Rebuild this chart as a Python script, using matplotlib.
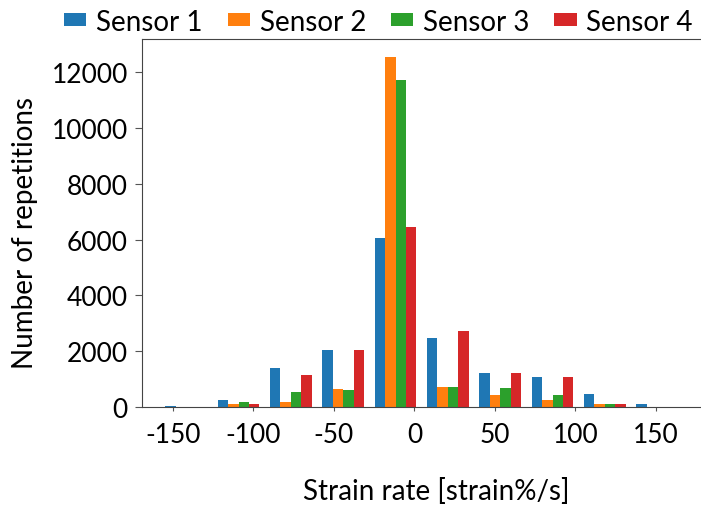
import matplotlib.pyplot as plt
import numpy as np

plt.rcParams['font.family'] = ['Lato', 'DejaVu Sans']
plt.rcParams['axes.unicode_minus'] = False

# histogram bin edges (strain%/s) and counts per sensor
bin_edges = np.linspace(-158, 167, 11)
sensor1 = [8, 240, 1380, 2030, 6050, 2460, 1200, 1080, 470, 100]
sensor2 = [0, 90, 170, 650, 12570, 720, 420, 240, 100, 0]
sensor3 = [0, 160, 530, 600, 11730, 720, 660, 420, 100, 0]
sensor4 = [0, 100, 1140, 2030, 6460, 2710, 1200, 1080, 100, 0]
labels = ['Sensor 1', 'Sensor 2', 'Sensor 3', 'Sensor 4']
colors = ['#1f77b4', '#ff7f0e', '#2ca02c', '#d62728']

centers = (bin_edges[:-1] + bin_edges[1:]) / 2
counts = [sensor1, sensor2, sensor3, sensor4]

fig = plt.figure(figsize=(7.01, 5.10), dpi=100)
ax = fig.add_axes([141.7 / 701, 1 - 407.7 / 510, 567.4 / 701, 367.7 / 510])

ax.hist([centers] * 4, bins=bin_edges, weights=counts, color=colors, label=labels)

ax.set_xlim(-169.4, 183)
ax.set_ylim(0, 13200)
ax.set_xticks([-150, -100, -50, 0, 50, 100, 150])
ax.set_yticks(range(0, 12001, 2000))
ax.tick_params(labelsize=19, color='#555555')
ax.tick_params(axis='x', length=3, pad=8)
ax.tick_params(axis='y', length=5, pad=5)
ax.set_xlabel('Strain rate [strain%/s]', fontsize=20, va='center')
ax.xaxis.set_label_coords(0.519, -0.229)
ax.set_ylabel('Number of repetitions', fontsize=20, va='center')
ax.yaxis.set_label_coords(-0.205, 0.475)
for s in ax.spines.values():
    s.set_color('#444444')

fig.legend(loc='upper center', bbox_to_anchor=(0.54, 1.03), ncol=4, frameon=False,
           fontsize=20, handlelength=0.8, handleheight=0.35, columnspacing=0.9, handletextpad=0.35)

fig.savefig('out.png', dpi=100)
